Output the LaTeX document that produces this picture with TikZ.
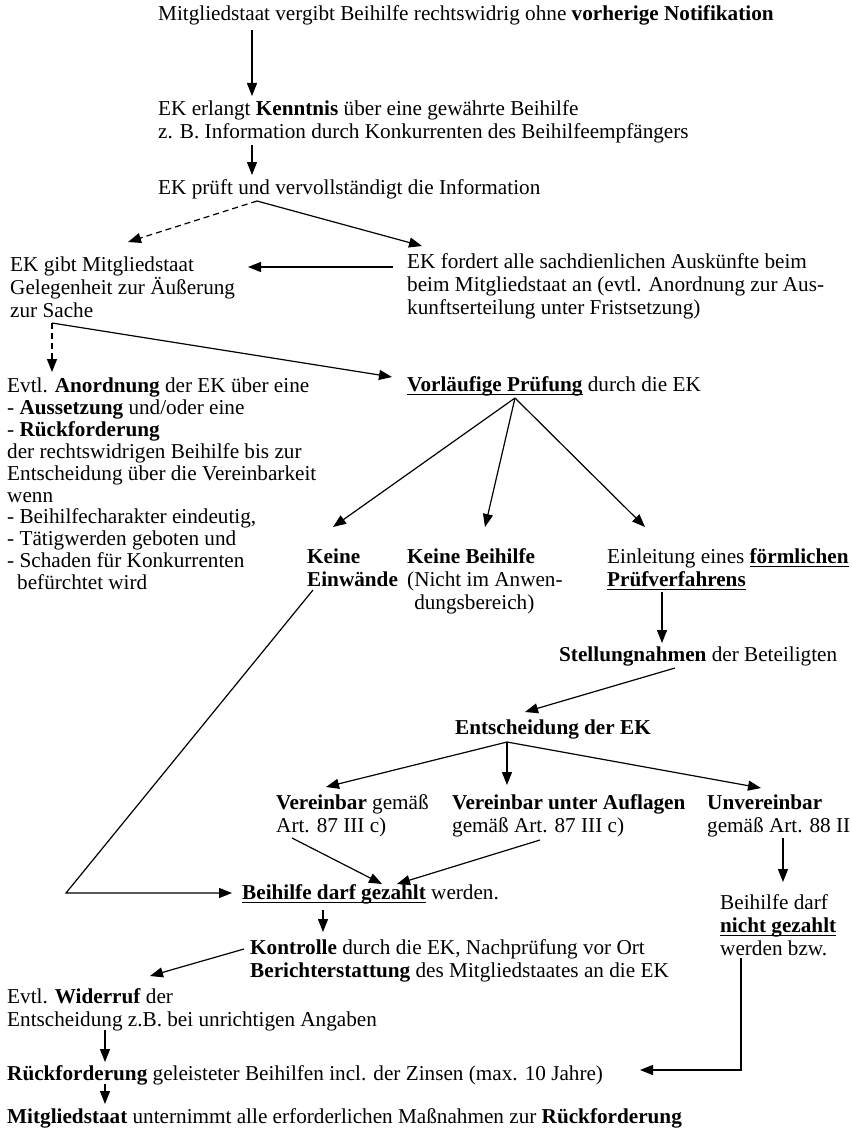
\documentclass[tikz,border=0pt]{standalone}
\usepackage{fontspec}
\setmainfont{Liberation Serif}
\usetikzlibrary{arrows.meta}
\newsavebox\ulbox
\newcommand{\ulx}[1]{\sbox\ulbox{#1}\rlap{\rule[-4pt]{\wd\ulbox}{1.3pt}}\usebox\ulbox}
\newcommand{\fsz}{\fontsize{21.2}{23}\selectfont\lineskiplimit=-100pt\lineskip=0pt\relax}
\newcommand{\fsn}{\fontsize{21.2}{21.9}\selectfont\lineskiplimit=-100pt\lineskip=0pt\relax}
\begin{document}
\begin{tikzpicture}[x=1pt,y=-1pt,
  txt/.style={anchor=north west, inner sep=0pt, align=left, font=\fsz},
  arr/.style={line width=1.2pt, -{Triangle[length=13pt,width=10pt]}},
  dsh/.style={arr, dash pattern=on 6pt off 4pt}]
\fill[white] (0,0) rectangle (851,1129);
\useasboundingbox (0,0) rectangle (851,1129);

% ---------- texts ----------
\node[txt] (n1) at (158,4) {\strut Mitgliedstaat vergibt Beihilfe rechtswidrig ohne \textbf{vorherige Notifikation}};
\node[txt] (n2) at (158,99) {\strut EK erlangt \textbf{Kenntnis} über eine gewährte Beihilfe\\z. B. Information durch Konkurrenten des Beihilfeempfängers};
\node[txt] (n3) at (158,178) {\strut EK prüft und vervollständigt die Information};
\node[txt] (n4) at (10,255) {\strut EK gibt Mitgliedstaat\\Gelegenheit zur Äußerung\\zur Sache};
\node[txt] (n5) at (407,252) {\strut EK fordert alle sachdienlichen Auskünfte beim\\beim Mitgliedstaat an (evtl. Anordnung zur Aus-\\kunftserteilung unter Fristsetzung)};
\node[txt, font=\fsn] (n6) at (7,377) {\strut Evtl. \textbf{Anordnung} der EK über eine\\- \textbf{Aussetzung} und/oder eine\\- \textbf{Rückforderung}\\der rechtswidrigen Beihilfe bis zur\\Entscheidung über die Vereinbarkeit\\wenn\\- Beihilfecharakter eindeutig,\\- Tätigwerden geboten und\\- Schaden für Konkurrenten\\\hspace*{10pt}befürchtet wird};
\node[txt] (n7) at (407,375) {\strut \ulx{\textbf{Vorläufige Prüfung}} durch die EK};
\node[txt] (n8) at (307,547) {\strut\textbf{Keine}\\\textbf{Einwände}};
\node[txt] (n9) at (407,547) {\strut\textbf{Keine Beihilfe}\\(Nicht im Anwen-\\\hphantom{(}dungsbereich)};
\node[txt] (n10) at (607,547) {\strut Einleitung eines \ulx{\textbf{förmlichen}}\\\ulx{\textbf{Prüfverfahrens}}};
\node[txt] (n11) at (559,645) {\strut\textbf{Stellungnahmen} der Beteiligten};
\node[txt] (n12) at (455,718) {\strut\textbf{Entscheidung der EK}};
\node[txt] (n13) at (276,793) {\strut\textbf{Vereinbar} gemäß\\Art. 87 III c)};
\node[txt] (n14) at (452,793) {\strut\textbf{Vereinbar unter Auflagen}\\gemäß Art. 87 III c)};
\node[txt] (n15) at (707,793) {\strut\textbf{Unvereinbar}\\gemäß Art. 88 II};
\node[txt] (n16) at (242,883) {\strut\ulx{\textbf{Beihilfe darf gezahlt}} werden.};
\node[txt] (n17) at (720,893) {\strut Beihilfe darf\\\ulx{\textbf{nicht gezahlt}}\\werden bzw.};
\node[txt] (n18) at (250,938) {\strut\textbf{Kontrolle} durch die EK, Nachprüfung vor Ort\\\textbf{Berichterstattung} des Mitgliedstaates an die EK};
\node[txt] (n19) at (7,987) {\strut Evtl. \textbf{Widerruf} der\\Entscheidung z.B. bei unrichtigen Angaben};
\node[txt] (n20) at (7,1064) {\strut\textbf{Rückforderung} geleisteter Beihilfen incl. der Zinsen (max. 10 Jahre)};
\node[txt] (n21) at (7,1107) {\strut\textbf{Mitgliedstaat} unternimmt alle erforderlichen Maßnahmen zur \textbf{Rückforderung}};

% ---------- connector points ----------
\coordinate (c1a) at (252,30);   \coordinate (c1b) at (252,96);
\coordinate (c2a) at (252,145);  \coordinate (c2b) at (252,175);
\coordinate (p3)  at (257,201);
\coordinate (t4)  at (128,242);  \coordinate (t5) at (422,246);
\coordinate (c5a) at (393,267);  \coordinate (c5b) at (248,267);
\coordinate (p4)  at (52,323);
\coordinate (t6)  at (52,372);   \coordinate (t7) at (392,377);
\coordinate (p7)  at (515,398);
\coordinate (t8)  at (333,527);  \coordinate (t9) at (485,527);  \coordinate (t10) at (645,527);
\coordinate (s8)  at (313,590);  \coordinate (k8) at (66,893);   \coordinate (t16a) at (232,893);
\coordinate (c10a) at (662,592); \coordinate (c10b) at (662,643);
\coordinate (c11a) at (675,668); \coordinate (c11b) at (525,712);
\coordinate (p12) at (507,742);
\coordinate (t13) at (326,787);  \coordinate (t14) at (507,785); \coordinate (t15) at (761,788);
\coordinate (s13) at (292,838);  \coordinate (t16b) at (382,884);
\coordinate (s14) at (540,840);  \coordinate (t16c) at (397,884);
\coordinate (c15a) at (783,838); \coordinate (c15b) at (783,882);
\coordinate (c16a) at (323,910); \coordinate (c16b) at (323,932);
\coordinate (c18a) at (244,949); \coordinate (c18b) at (150,976);
\coordinate (c19a) at (105,1030); \coordinate (c19b) at (105,1062);
\coordinate (s17) at (741,958);  \coordinate (k17) at (741,1070); \coordinate (t20) at (640,1070);
\coordinate (c20a) at (105,1084); \coordinate (c20b) at (105,1104);

% ---------- connectors ----------
\draw[arr] (c1a) -- (c1b);
\draw[arr] (c2a) -- (c2b);
\draw[dsh] (p3) -- (t4);
\draw[arr] (p3) -- (t5);
\draw[arr] (c5a) -- (c5b);
\draw[dsh] (p4) -- (t6);
\draw[arr] (p4) -- (t7);
\draw[arr] (p7) -- (t8);
\draw[arr] (p7) -- (t9);
\draw[arr] (p7) -- (t10);
\draw[arr] (s8) -- (k8) -- (t16a);
\draw[arr] (c10a) -- (c10b);
\draw[arr] (c11a) -- (c11b);
\draw[arr] (p12) -- (t13);
\draw[arr] (p12) -- (t14);
\draw[arr] (p12) -- (t15);
\draw[arr] (s13) -- (t16b);
\draw[arr] (s14) -- (t16c);
\draw[arr] (c15a) -- (c15b);
\draw[arr] (c16a) -- (c16b);
\draw[arr] (c18a) -- (c18b);
\draw[arr] (c19a) -- (c19b);
\draw[arr] (s17) -- (k17) -- (t20);
\draw[arr] (c20a) -- (c20b);
\end{tikzpicture}
\end{document}
